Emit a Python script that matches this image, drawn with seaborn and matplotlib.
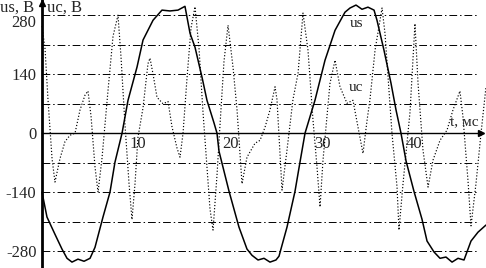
import matplotlib
matplotlib.use("Agg")
import numpy as np
import pandas as pd
import seaborn as sns
import matplotlib.pyplot as plt
from matplotlib.transforms import ScaledTranslation

# us - source voltage (t in ms, volts)
t_us = [0.0, 0.54, 1.41, 2.17, 2.72, 3.26, 3.91, 4.57, 5.22, 5.76, 6.63, 7.39, 7.93,
        8.70, 9.35, 10.33, 10.98, 12.07, 13.04, 13.91, 14.78, 15.54, 16.09, 16.63,
        17.39, 17.93, 18.70, 19.02, 19.24, 20.33, 21.41, 22.28, 22.83, 23.48, 24.13,
        24.78, 25.43, 25.76, 26.63, 27.50, 28.04, 28.59, 29.67, 30.76, 31.85, 32.93,
        33.48, 34.13, 34.78, 35.43, 36.09, 36.41, 37.17, 37.93, 38.48, 39.02, 39.57,
        40.43, 41.30, 41.85, 42.61, 43.26, 43.91, 44.57, 45.22, 45.87, 46.63, 47.39, 48.26]
us = [-140, -199, -240, -275, -297, -306, -299, -304, -297, -271, -199, -140, -69,
      0, 78, 157, 221, 268, 292, 290, 292, 301, 237, 204,
      133, 78, 24, 0, -43, -138, -223, -275, -290, -301, -297,
      -306, -301, -292, -223, -138, -69, 0, 78, 173, 244, 287,
      297, 304, 294, 299, 292, 268, 197, 119, 55, 0, -66,
      -138, -204, -256, -282, -297, -294, -306, -297, -301, -256, -235, -218]

# uc - capacitor voltage
t_uc = [0.00, 0.33, 0.65, 1.09, 1.41, 1.96, 2.50, 3.04, 3.59, 4.13, 4.67, 5.00, 5.33,
        5.76, 6.09, 6.52, 7.17, 7.72, 8.26, 8.59, 9.02, 9.46, 9.78, 10.11, 10.43,
        10.98, 11.52, 11.74, 12.07, 12.50, 13.15, 13.70, 14.13, 14.67, 15.00, 15.33,
        15.76, 16.20, 16.63, 17.07, 17.50, 17.93, 18.26, 18.59, 19.02, 19.35, 19.78,
        20.22, 20.76, 21.20, 21.74, 22.28, 23.15, 23.70, 24.24, 24.78, 25.33, 25.54,
        26.09, 26.63, 27.28, 27.83, 28.37, 28.91, 29.46, 29.89, 30.22, 30.54, 31.30,
        31.85, 32.39, 33.15, 33.80, 34.35, 34.89, 35.33, 35.65, 36.20, 36.96, 37.28,
        38.04, 38.59, 38.80, 39.24, 40.00, 40.54, 40.87, 41.41, 41.96, 42.50, 43.26,
        44.02, 44.67, 45.43, 45.76, 46.30, 46.63, 47.17, 47.72, 48.26]
uc = [254, 200, 80, -60, -116, -60, -20, -5, 0, 55, 90, 100, 40,
      -80, -140, -60, 100, 230, 280, 180, 20, -120, -205, -120, -10,
      60, 165, 178, 140, 85, 70, 75, 15, -35, -57, 0,
      130, 250, 300, 200, 50, -80, -180, -230, -100, 20, 170,
      256, 157, 55, -120, -57, -24, -17, 14, 55, 110, 80,
      -135, -40, 80, 142, 285, 197, 30, -80, -175, -65, 118,
      173, 110, 71, 78, 14, -48, 30, 80, 197, 297, 237,
      0, -128, -230, -120, 50, 260, 119, -40, -128, -64, -17,
      7, 55, 100, 38, -112, -220, -120, 0, 110]

grid_levels = [-280, -210, -140, -70, 70, 140, 210, 280]
y_ticks = [-280, -140, 0, 140, 280]
x_ticks = [10, 20, 30, 40]

df_us = pd.DataFrame({"t": t_us, "u": us})
df_uc = pd.DataFrame({"t": t_uc, "u": uc})

sns.set_style("white")
plt.rcParams["font.family"] = ["Liberation Serif", "DejaVu Serif"]

fig = plt.figure(figsize=(4.86, 2.68), dpi=100)
ax = fig.add_axes([0, 0, 1, 1])
ax.set_xlim(-4.565, 48.26)
ax.set_ylim(-320, 316)

# dash-dot grid
ax.hlines(grid_levels, 0, 47.4, colors="black", linewidth=0.7,
          linestyles=[(0, (8, 3, 1.5, 3))])

sns.lineplot(data=df_uc, x="t", y="u", ax=ax, color="black", linewidth=0.85,
             linestyle=":", sort=False, estimator=None)
sns.lineplot(data=df_us, x="t", y="u", ax=ax, color="black", linewidth=1.1,
             sort=False, estimator=None)

# axes through the origin
for s in ["top", "right"]:
    ax.spines[s].set_visible(False)
ax.spines["left"].set_position(("data", 0))
ax.spines["bottom"].set_position(("data", 0))
ax.spines["left"].set_linewidth(2)
ax.spines["bottom"].set_linewidth(1)
ax.spines["left"].set_color("black")
ax.spines["bottom"].set_color("black")
ax.spines["bottom"].set_bounds(0, 47.3)
ax.plot(47.7, 0, ">", color="black", ms=5, clip_on=False)
ax.plot(0, 309, "^", color="black", ms=5, clip_on=False)

ax.set_yticks(y_ticks)
ax.set_yticklabels([str(v) for v in y_ticks])
ax.set_xticks(x_ticks)
ax.set_xticklabels([str(v) for v in x_ticks])
ax.tick_params(axis="y", direction="inout", length=6, width=1, labelsize=12, pad=1)
ax.tick_params(axis="x", direction="in", length=4, width=1, labelsize=12, pad=2)
for lab in ax.get_yticklabels():
    if lab.get_text() == "280":
        lab.set_va("top")
for lab in ax.get_xticklabels():
    lab.set_transform(lab.get_transform() + ScaledTranslation(4 / 100, 0, fig.dpi_scale_trans))
ax.set_xlabel("")
ax.set_ylabel("")

fig.text(0.0, 1.0, "us, В", ha="left", va="top", fontsize=12)
fig.text(47 / 486, 1.0, "uc, В", ha="left", va="top", fontsize=12)
ax.text(44.4, 10, "t, мс", ha="left", va="bottom", fontsize=11)
ax.text(33.4, 261, "us", ha="left", va="center", fontsize=11)
ax.text(33.3, 108, "uc", ha="left", va="center", fontsize=11)

fig.savefig("out.png", dpi=100)
